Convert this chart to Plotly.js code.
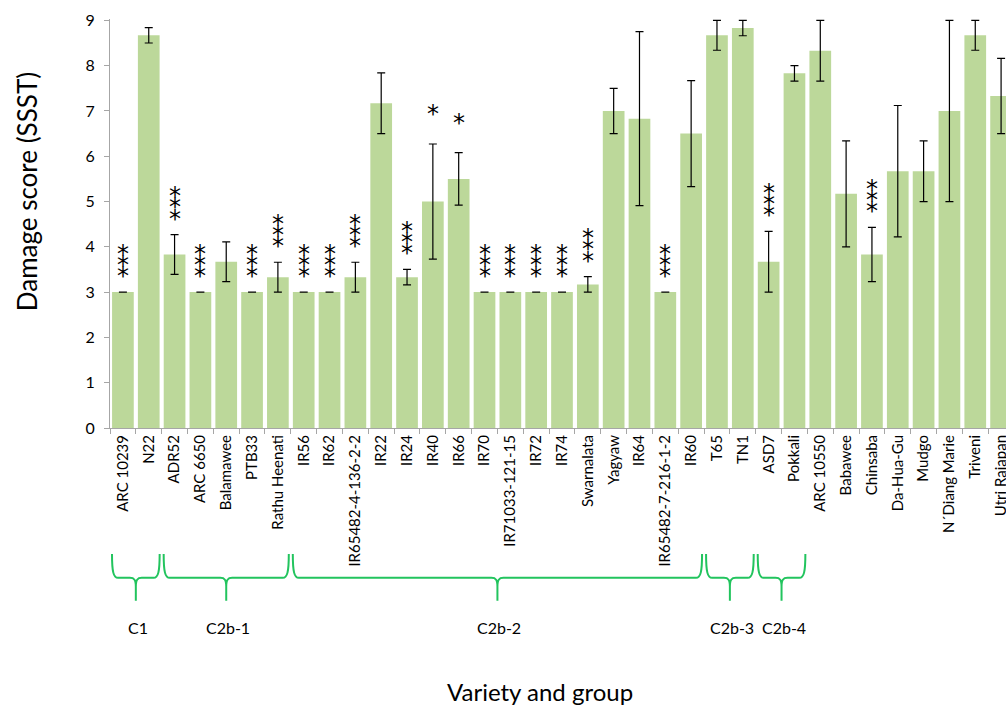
<!DOCTYPE html>
<html>
<head>
<meta charset="utf-8">
<script src="https://cdn.plot.ly/plotly-3.0.1.min.js"></script>
<style>
html, body { margin: 0; padding: 0; overflow: hidden; background: #fff; }
#chart { width: 1020px; height: 713px; }
</style>
</head>
<body>
<div id="chart"></div>
<script>
// ---- data ----
const varieties = ['ARC 10239','N22','ADR52','ARC 6650','Balamawee','PTB33','Rathu Heenati','IR56','IR62',
  'IR65482-4-136-2-2','IR22','IR24','IR40','IR66','IR70','IR71033-121-15','IR72','IR74','Swarnalata',
  'Yagyaw','IR64','IR65482-7-216-1-2','IR60','T65','TN1','ASD7','Pokkali','ARC 10550','Babawee',
  'Chinsaba','Da-Hua-Gu','Mudgo','N\u00b4Diang Marie','Triveni','Utri Rajapan'];
const damageScore = [3, 8.67, 3.83, 3, 3.67, 3, 3.33, 3, 3, 3.33, 7.17, 3.33, 5, 5.5, 3, 3, 3, 3, 3.17,
  7, 6.83, 3, 6.5, 8.67, 8.83, 3.67, 7.83, 8.33, 5.17, 3.83, 5.67, 5.67, 7, 8.67, 7.33];
const standardError = [0, 0.17, 0.44, 0, 0.44, 0, 0.33, 0, 0, 0.33, 0.67, 0.17, 1.27, 0.58, 0, 0, 0, 0, 0.17,
  0.5, 1.92, 0, 1.17, 0.33, 0.17, 0.67, 0.17, 0.67, 1.17, 0.6, 1.45, 0.67, 2.0, 0.33, 0.83];
const significance = ['***','','***','***','','***','***','***','***','***','','***','*','*','***','***','***','***','***',
  '','','***','','','','***','','','','***','','','','',''];
const groupNames = ['C1','C2b-1','C2b-2','C2b-3','C2b-4'];
const groupFirst = ['ARC 10239','ADR52','IR56','T65','ASD7'];
const groupLast  = ['N22','Rathu Heenati','IR60','TN1','Pokkali'];
const yTicks = [0,1,2,3,4,5,6,7,8,9];

// ---- geometry ----
const FONT = 'Lato, "Open Sans", sans-serif';
const W = 1020, Hh = 713;
const L = 110, R = 6, B = 285;
const yMax = 9.03;
const plotH = 408 * yMax / 9;
const T = Hh - B - plotH;
const plotW = W - L - R;
const n = varieties.length;
const cw = plotW / n;
const baseY = Hh - B;

const px2x = p => (p - L) / plotW;
const px2y = p => (baseY - p) / plotH;

const annotations = [];
const shapes = [];

// significance stars, stacked one per line above the error bar
varieties.forEach((v, i) => {
  const s = significance[i];
  if (!s) return;
  const top = damageScore[i] + standardError[i];
  const k = s.length;
  for (let j = 0; j < k; j++) {
    annotations.push({
      x: v, y: top, xref: 'x', yref: 'y',
      text: '*', showarrow: false,
      xanchor: 'center', yanchor: 'middle',
      yshift: (k === 1 ? 30 : 16) + j * 11.3,
      font: { family: 'DejaVu Sans', size: 24, color: '#000' }
    });
  }
});

// group braces
const braceTop = 554;
groupNames.forEach((g, gi) => {
  const a = varieties.indexOf(groupFirst[gi]);
  const b = varieties.indexOf(groupLast[gi]);
  const x0 = L + a * cw + 2;
  const x1 = L + (b + 1) * cw - 2;
  const xc = (x0 + x1) / 2;
  const yt = braceTop, yh = braceTop + 24, ys = braceTop + 47;
  const P = (x, y) => px2x(x).toFixed(5) + ',' + px2y(y).toFixed(5);
  const path =
    'M' + P(x0, yt) +
    ' C' + P(x0, yh - 6) + ' ' + P(x0 + 1.5, yh) + ' ' + P(x0 + 6, yh) +
    ' L' + P(xc - 6, yh) +
    ' C' + P(xc - 1.5, yh) + ' ' + P(xc, yh + 2) + ' ' + P(xc, yh + 9) +
    ' L' + P(xc, ys) +
    ' M' + P(xc, yh + 9) +
    ' C' + P(xc, yh + 2) + ' ' + P(xc + 1.5, yh) + ' ' + P(xc + 6, yh) +
    ' L' + P(x1 - 6, yh) +
    ' C' + P(x1 - 1.5, yh) + ' ' + P(x1, yh - 6) + ' ' + P(x1, yt);
  shapes.push({
    type: 'path', xref: 'paper', yref: 'paper', path: path,
    line: { color: '#22c45e', width: 2 }, layer: 'above'
  });
  annotations.push({
    x: px2x(xc + 2), y: px2y(braceTop + 74), xref: 'paper', yref: 'paper',
    text: g, showarrow: false, xanchor: 'center', yanchor: 'middle',
    font: { family: FONT, size: 16, color: '#000' }
  });
});

// axis titles
annotations.push({
  x: px2x(540), y: px2y(692), xref: 'paper', yref: 'paper',
  text: 'Variety and group', showarrow: false, xanchor: 'center', yanchor: 'middle',
  font: { family: FONT, size: 24, color: '#000' }
});
annotations.push({
  x: px2x(27), y: px2y(192), xref: 'paper', yref: 'paper',
  text: 'Damage score (SSST)', showarrow: false, textangle: -90,
  xanchor: 'center', yanchor: 'middle',
  font: { family: FONT, size: 26, color: '#000' }
});

const bars = {
  type: 'bar',
  x: varieties,
  y: damageScore,
  marker: { color: '#bcd89a', line: { width: 0 } },
  error_y: { type: 'data', array: standardError, visible: true, color: '#000', thickness: 1.2, width: 4 },
  hoverinfo: 'x+y'
};

const layout = {
  width: W, height: Hh,
  margin: { l: L, r: R, t: T, b: B, pad: 0 },
  paper_bgcolor: '#fff', plot_bgcolor: '#fff',
  bargap: 0.16,
  showlegend: false,
  font: { family: FONT, color: '#000' },
  xaxis: {
    type: 'category',
    range: [-0.5, n - 0.5],
    showgrid: false, zeroline: false,
    showline: true, linecolor: '#a6a6a6', linewidth: 1,
    ticks: 'outside', tickson: 'boundaries', ticklen: 5, tickcolor: '#a6a6a6',
    tickangle: -90,
    tickfont: { family: FONT, size: 15, color: '#000' }
  },
  yaxis: {
    range: [0, yMax],
    tickvals: yTicks,
    ticktext: yTicks.map(String),
    showgrid: false, zeroline: false,
    showline: true, linecolor: '#a6a6a6', linewidth: 1,
    ticks: 'outside', ticklen: 5, tickcolor: '#a6a6a6',
    ticklabelstandoff: 6,
    tickfont: { family: FONT, size: 16, color: '#000' }
  },
  annotations: annotations,
  shapes: shapes
};

Plotly.newPlot('chart', [bars], layout, { displayModeBar: false, staticPlot: true });
</script>
</body>
</html>
